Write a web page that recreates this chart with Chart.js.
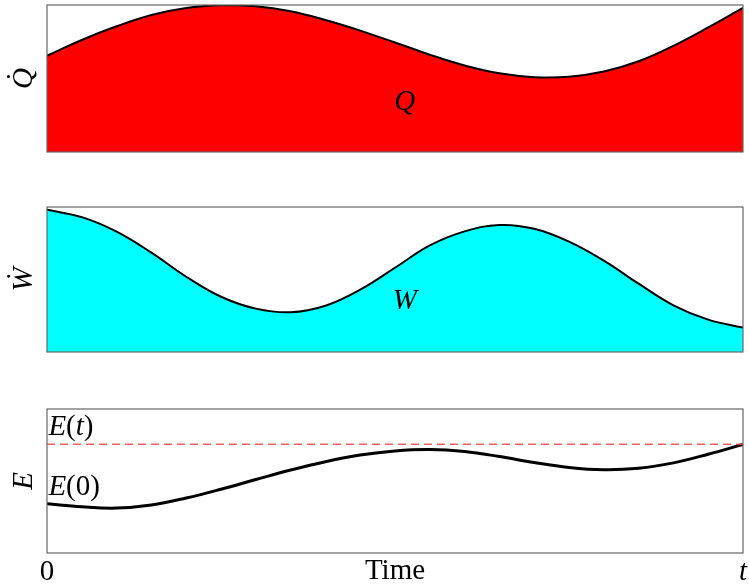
<!DOCTYPE html>
<html>
<head>
<meta charset="utf-8">
<script src="https://cdn.jsdelivr.net/npm/chart.js@4/dist/chart.umd.min.js"></script>
<style>
  body { margin: 0; background: #fff; }
  #wrap { position: relative; width: 749px; height: 586px; }
  .panel { position: absolute; left: 0; width: 749px; }
</style>
</head>
<body>
<div id="wrap">
  <div class="panel" style="top:0;height:170px"><canvas id="heat-chart"></canvas></div>
  <div class="panel" style="top:190px;height:170px"><canvas id="work-chart"></canvas></div>
  <div class="panel" style="top:390px;height:196px"><canvas id="energy-chart"></canvas></div>
</div>
<script>
// time axis, 0 .. t (normalised)
const timeGrid = [0, 0.05, 0.1, 0.15, 0.2, 0.25, 0.3, 0.35, 0.4, 0.45, 0.5,
  0.55, 0.6, 0.65, 0.7, 0.75, 0.8, 0.85, 0.9, 0.95, 1];

// heat rate Q-dot
const heatRate = [0.655, 0.762, 0.855, 0.932, 0.980, 0.998, 0.992, 0.958, 0.898, 0.826, 0.745,
  0.662, 0.589, 0.535, 0.509, 0.512, 0.547, 0.617, 0.722, 0.847, 0.980];

// work rate W-dot
const workRate = [0.981, 0.930, 0.830, 0.685, 0.519, 0.381, 0.299, 0.274, 0.319, 0.430, 0.581,
  0.735, 0.832, 0.876, 0.850, 0.761, 0.630, 0.471, 0.322, 0.223, 0.168];

// energy E
const energy = [0.342, 0.321, 0.312, 0.333, 0.382, 0.443, 0.510, 0.576, 0.634, 0.680, 0.709,
  0.719, 0.705, 0.670, 0.628, 0.594, 0.578, 0.588, 0.626, 0.686, 0.754];
const finalEnergy = [0.755, 0.755];
const finalTime = [0, 1];

const tickLabels = ['0', 't'];

const serif = '"Liberation Serif", "DejaVu Serif", serif';

function points(xs, ys) {
  return xs.map((x, i) => ({ x: x, y: ys[i] }));
}

// frame + free text labels (segments: [text, italic])
const notesPlugin = {
  id: 'notes',
  afterDraw(chart, args, opts) {
    const ctx = chart.ctx;
    const a = chart.chartArea;
    ctx.save();
    ctx.strokeStyle = '#666';
    ctx.lineWidth = 1.2;
    ctx.strokeRect(a.left, a.top, a.right - a.left, a.bottom - a.top);
    ctx.fillStyle = '#000';
    ctx.textBaseline = 'middle';
    ctx.textAlign = 'left';
    (opts.items || []).forEach(n => {
      const fonts = n.parts.map(p => (p[1] ? 'italic ' : '') + '29px ' + serif);
      let w = 0;
      n.parts.forEach((p, i) => { ctx.font = fonts[i]; w += ctx.measureText(p[0]).width; });
      let x = chart.scales.x.getPixelForValue(n.x);
      if (n.align === 'center') x -= w / 2;
      const y = chart.scales.y.getPixelForValue(n.y);
      n.parts.forEach((p, i) => {
        ctx.font = fonts[i];
        ctx.fillText(p[0], x, y);
        x += ctx.measureText(p[0]).width;
      });
    });
    ctx.restore();
  }
};

function yAxis(title) {
  return {
    min: 0, max: 1,
    grid: { display: false },
    border: { display: false },
    ticks: { display: false },
    title: {
      display: true, text: title, color: '#000',
      font: { family: serif, size: 29, style: 'italic' },
      padding: { top: 7, bottom: 0 }
    },
    afterFit(scale) { scale.width = 47; }
  };
}

function baseOptions(padding, items, title, showX) {
  return {
    responsive: true,
    maintainAspectRatio: false,
    animation: false,
    layout: { padding: padding },
    plugins: { legend: { display: false }, tooltip: { enabled: false }, notes: { items: items } },
    elements: { point: { radius: 0 }, line: { tension: 0.4 } },
    scales: {
      x: {
        type: 'linear', min: 0, max: 1,
        display: showX,
        grid: { display: false },
        border: { display: false },
        ticks: {
          stepSize: 1, padding: -6, color: '#000', maxRotation: 0,
          callback: v => v === 0 ? tickLabels[0] : (v === 1 ? tickLabels[1] : ''),
          font: c => ({ family: serif, size: 29, style: c.tick && c.tick.value === 1 ? 'italic' : 'normal' })
        },
        title: {
          display: showX, text: 'Time', color: '#000',
          font: { family: serif, size: 29 },
          padding: { top: 0, bottom: -3 }
        },
        afterFit(scale) { if (showX) scale.height = 33; }
      },
      y: yAxis(title)
    }
  };
}

new Chart(document.getElementById('heat-chart'), {
  type: 'line',
  data: {
    datasets: [{
      data: points(timeGrid, heatRate),
      borderColor: '#000', borderWidth: 2,
      backgroundColor: '#ff0000', fill: 'origin'
    }]
  },
  options: baseOptions({ top: 5, bottom: 18, right: 6, left: 0 },
    [{ parts: [['Q', true]], x: 0.514, y: 0.34, align: 'center' }], 'Q\u0307', false),
  plugins: [notesPlugin]
});

new Chart(document.getElementById('work-chart'), {
  type: 'line',
  data: {
    datasets: [{
      data: points(timeGrid, workRate),
      borderColor: '#000', borderWidth: 2,
      backgroundColor: '#00ffff', fill: 'origin'
    }]
  },
  options: baseOptions({ top: 17, bottom: 8, right: 6, left: 0 },
    [{ parts: [['W', true]], x: 0.514, y: 0.35, align: 'center' }], 'W\u0307', false),
  plugins: [notesPlugin]
});

new Chart(document.getElementById('energy-chart'), {
  type: 'line',
  data: {
    datasets: [{
      data: points(finalTime, finalEnergy),
      borderColor: 'rgba(240,70,70,0.85)', borderWidth: 1.5,
      borderDash: [8, 5], fill: false, tension: 0
    }, {
      data: points(timeGrid, energy),
      borderColor: '#000', borderWidth: 3,
      fill: false
    }]
  },
  options: baseOptions({ top: 19, bottom: 0, right: 6, left: 0 },
    [{ parts: [['E', true], ['(', false], ['t', true], [')', false]], x: 0.002, y: 0.87 },
     { parts: [['E', true], ['(', false], ['0', false], [')', false]], x: 0.002, y: 0.455 }], 'E', true),
  plugins: [notesPlugin]
});
</script>
</body>
</html>
